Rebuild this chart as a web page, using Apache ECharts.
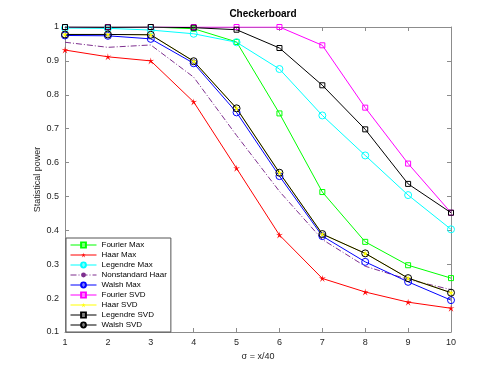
<!DOCTYPE html>
<html>
<head>
<meta charset="utf-8">
<script src="https://cdn.jsdelivr.net/npm/echarts@6/dist/echarts.min.js"></script>
<style>
  html, body { margin: 0; padding: 0; background: #fff; }
  #main { width: 498px; height: 374px; }
</style>
</head>
<body>
<div id="main"></div>
<script>
// 横轴 sigma = x/40
var sigmaVals = [1, 2, 3, 4, 5, 6, 7, 8, 9, 10];
var yTicks = [0.1, 0.2, 0.3, 0.4, 0.5, 0.6, 0.7, 0.8, 0.9, 1];

// 各方法的统计功效
var fourierMax = [1.0, 1.0, 1.0, 0.995, 0.956, 0.745, 0.513, 0.366, 0.297, 0.259];
var haarMax = [0.932, 0.912, 0.900, 0.779, 0.583, 0.386, 0.258, 0.218, 0.188, 0.170];
var legendreMax = [0.997, 0.996, 0.991, 0.980, 0.955, 0.876, 0.739, 0.621, 0.504, 0.403];
var nonstdHaar = [0.955, 0.940, 0.947, 0.852, 0.680, 0.515, 0.373, 0.294, 0.255, 0.225];
var walshMax = [0.975, 0.974, 0.965, 0.893, 0.748, 0.560, 0.383, 0.307, 0.248, 0.194];
var fourierSVD = [1.0, 1.0, 1.0, 1.0, 1.0, 1.0, 0.946, 0.762, 0.597, 0.452];
var haarSVD = [0.978, 0.978, 0.977, 0.899, 0.760, 0.570, 0.389, 0.332, 0.259, 0.216];
var legendreSVD = [1.0, 0.999, 1.0, 0.998, 0.992, 0.938, 0.828, 0.698, 0.537, 0.452];
var walshSVD = [0.978, 0.978, 0.977, 0.899, 0.760, 0.570, 0.389, 0.332, 0.259, 0.216];

(function () {
  var myChart = echarts.init(document.getElementById("main"));

  function pairs(arr) {
    return sigmaVals.map(function (x, i) { return [x, arr[i]]; });
  }

  // 星形标记
  var star = 'path://M50,0 L58,38 L100,30 L64,52 L84,92 L50,64 L16,92 L36,52 L0,30 L42,38 Z';

  function mk(name, data, color, symbol, opts) {
    opts = opts || {};
    var s = {
      name: name,
      type: 'line',
      data: pairs(data),
      symbol: symbol,
      symbolSize: opts.size || 6,
      showSymbol: symbol !== 'none',
      lineStyle: { width: 1, color: color, type: opts.dash || 'solid' },
      itemStyle: opts.hollow ? { color: 'rgba(0,0,0,0)', borderColor: color, borderWidth: 1 } : { color: color },
      emphasis: { disabled: true },
      animation: false
    };
    return s;
  }

  var axisGrey = '#8c8c8c';
  var labelColor = '#262626';
  var font = 'Liberation Sans, Arial, sans-serif';

  var option = {
    title: {
      text: 'Checkerboard',
      left: 258,
      top: 4,
      textAlign: 'center',
      textStyle: { fontSize: 10, fontWeight: 'bold', color: '#000', fontFamily: font }
    },
    grid: { left: 65, right: 47, top: 27, bottom: 42 },
    legend: {
      orient: 'vertical',
      left: 66,
      top: 238,
      itemWidth: 26,
      itemHeight: 6,
      itemGap: 2,
      padding: [3, 4, 3, 4],
      backgroundColor: '#fff',
      borderColor: '#555',
      borderWidth: 1,
      borderRadius: 0,
      lineStyle: { width: 1 },
      textStyle: { fontSize: 8, color: '#000', fontFamily: font },
      data: ['Fourier Max', 'Haar Max', 'Legendre Max', 'Nonstandard Haar', 'Walsh Max',
        'Fourier SVD', 'Haar SVD', 'Legendre SVD', 'Walsh SVD']
    },
    xAxis: [{
      type: 'value',
      min: 1, max: 10, interval: 1,
      name: 'σ = x/40',
      nameLocation: 'middle',
      nameGap: 18,
      nameTextStyle: { fontSize: 9, color: labelColor, fontFamily: font },
      axisLine: { lineStyle: { color: axisGrey } },
      axisTick: { inside: true, length: 4, lineStyle: { color: axisGrey } },
      axisLabel: { fontSize: 9, color: labelColor, fontFamily: font, margin: 6 },
      splitLine: { show: false }
    }, {
      type: 'value',
      position: 'top',
      min: 1, max: 10, interval: 1,
      axisLine: { lineStyle: { color: axisGrey } },
      axisTick: { inside: true, length: 4, lineStyle: { color: axisGrey } },
      axisLabel: { show: false },
      splitLine: { show: false }
    }],
    yAxis: [{
      type: 'value',
      min: 0.1, max: 1, interval: 0.1,
      name: 'Statistical power',
      nameLocation: 'middle',
      nameGap: 23,
      nameMoveOverlap: false,
      nameTextStyle: { fontSize: 9, color: labelColor, fontFamily: font },
      axisLine: { show: true, lineStyle: { color: axisGrey } },
      axisTick: { show: true, inside: true, length: 4, lineStyle: { color: axisGrey } },
      axisLabel: {
        fontSize: 9, color: labelColor, fontFamily: font, margin: 6,
        formatter: function (v) { return String(Math.round(v * 10) / 10); }
      },
      splitLine: { show: false }
    }, {
      type: 'value',
      position: 'right',
      min: 0.1, max: 1, interval: 0.1,
      axisLine: { show: true, lineStyle: { color: axisGrey } },
      axisTick: { show: true, inside: true, length: 4, lineStyle: { color: axisGrey } },
      axisLabel: { show: false },
      splitLine: { show: false }
    }],
    series: [
      mk('Fourier Max', fourierMax, '#00ff00', 'rect', { hollow: true, size: 5 }),
      mk('Haar Max', haarMax, '#ff0000', star, { size: 7 }),
      mk('Legendre Max', legendreMax, '#00ffff', 'circle', { hollow: true, size: 7 }),
      mk('Nonstandard Haar', nonstdHaar, '#7e2f8e', 'none', { dash: [6, 2, 1, 2] }),
      mk('Walsh Max', walshMax, '#0000ff', 'circle', { hollow: true, size: 7 }),
      mk('Fourier SVD', fourierSVD, '#ff00ff', 'rect', { hollow: true, size: 5 }),
      mk('Haar SVD', haarSVD, '#ffff00', star, { size: 7 }),
      mk('Legendre SVD', legendreSVD, '#000000', 'rect', { hollow: true, size: 5 }),
      mk('Walsh SVD', walshSVD, '#000000', 'circle', { hollow: true, size: 7 })
    ]
  };

  myChart.setOption(option);
  window.addEventListener("resize", function () {
    myChart.resize();
  });
})();
</script>
</body>
</html>
